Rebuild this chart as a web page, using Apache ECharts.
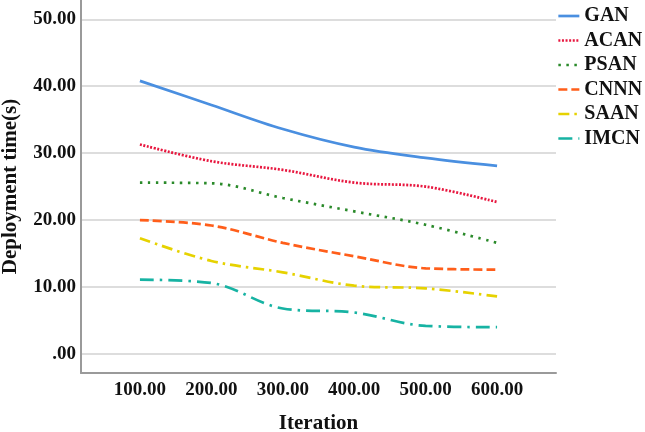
<!DOCTYPE html>
<html>
<head>
<meta charset="utf-8">
<script src="https://cdn.jsdelivr.net/npm/echarts@6/dist/echarts.min.js"></script>
<style>html,body{margin:0;padding:0;background:#fff}#c{width:645px;height:432px}</style>
</head>
<body>
<div id="c"></div>
<script>
var iterations = [100, 200, 300, 400, 500, 600];
var xTicks = [100, 200, 300, 400, 500, 600];
var yTicks = [0, 10, 20, 30, 40, 50];
var seriesNames = ['GAN', 'ACAN', 'PSAN', 'CNNN', 'SAAN', 'IMCN'];
var GAN  = [40.8, 37.2, 33.6, 30.9, 29.3, 28.1];
var ACAN = [31.3, 28.8, 27.5, 25.6, 25.0, 22.7];
var PSAN = [25.6, 25.5, 23.3, 21.3, 19.3, 16.6];
var CNNN = [20.0, 19.2, 16.6, 14.6, 12.8, 12.6];
var SAAN = [17.3, 13.9, 12.2, 10.2, 9.8, 8.6];
var IMCN = [11.1, 10.6, 6.8, 6.2, 4.2, 4.0];

var values = [GAN, ACAN, PSAN, CNNN, SAAN, IMCN];
var colors = ['#4a8fe0', '#e8173f', '#2a8a2a', '#ff5e1a', '#e6d200', '#17b3a3'];
var dashes = ['solid', [2, 1.6], [2.5, 5.5], [9, 4], [11, 5, 2.5, 5], [14, 6, 2.5, 6]];
var font = '"Liberation Serif", "Times New Roman", serif';

var series = seriesNames.map(function (name, i) {
  return {
    name: name,
    type: 'line',
    smooth: 0.35,
    symbol: 'none',
    data: iterations.map(function (x, j) { return [x, values[i][j]]; }),
    lineStyle: { color: colors[i], width: 2.7, type: dashes[i] },
    itemStyle: { color: colors[i] }
  };
});

var chart = echarts.init(document.getElementById('c'), null, { renderer: 'canvas' });
chart.setOption({
  animation: false,
  backgroundColor: '#fff',
  grid: { left: 81, right: 89, top: 0, bottom: 59, containLabel: false, outerBoundsMode: 'none' },
  legend: {
    orient: 'vertical',
    left: 557,
    top: 6,
    padding: 0,
    itemWidth: 21,
    itemHeight: 14,
    itemGap: 4.5,
    itemStyle: { opacity: 0 },
    lineStyle: { width: 2.7 },
    textStyle: { fontFamily: font, fontWeight: 'bold', fontSize: 20, color: '#111' },
    data: seriesNames
  },
  xAxis: {
    type: 'value',
    min: 17.5,
    max: 682.5,
    name: 'Iteration',
    nameLocation: 'middle',
    nameGap: 40,
    nameTextStyle: { fontFamily: font, fontWeight: 'bold', fontSize: 21, color: '#111' },
    axisLine: { show: true, onZero: false, lineStyle: { color: '#9a9a9a', width: 2 } },
    axisTick: { show: false, customValues: xTicks },
    splitLine: { show: false },
    axisLabel: {
      customValues: xTicks,
      margin: 8,
      fontFamily: font, fontWeight: 'bold', fontSize: 19, color: '#111',
      formatter: function (v) { return v.toFixed(2); }
    }
  },
  yAxis: {
    type: 'value',
    min: -2.84,
    max: 52.88,
    name: 'Deployment time(s)',
    nameLocation: 'middle',
    nameGap: 60,
    nameTextStyle: { fontFamily: font, fontWeight: 'bold', fontSize: 21, color: '#111' },
    axisLine: { show: true, onZero: false, lineStyle: { color: '#9a9a9a', width: 2 } },
    axisTick: { show: false, customValues: yTicks },
    splitLine: { show: true, lineStyle: { color: '#d2d2d2', width: 1.5 } },
    axisLabel: {
      customValues: yTicks,
      margin: 5,
      fontFamily: font, fontWeight: 'bold', fontSize: 19, color: '#111',
      formatter: function (v) { return v === 0 ? '.00' : v.toFixed(2); }
    }
  },
  series: series
});
</script>
</body>
</html>
